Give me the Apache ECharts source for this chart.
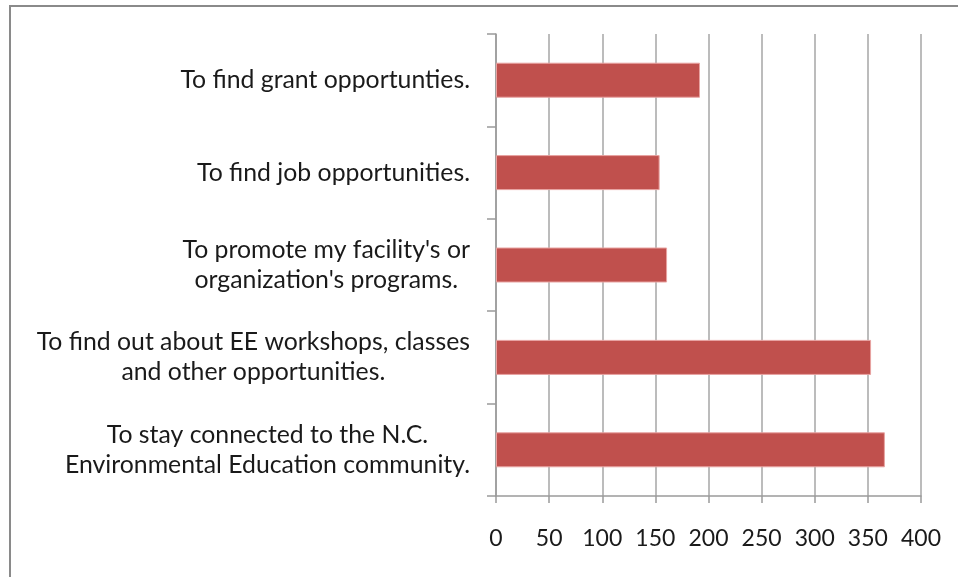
<!DOCTYPE html>
<html>
<head>
<meta charset="utf-8">
<script src="https://cdn.jsdelivr.net/npm/echarts@6/dist/echarts.min.js"></script>
<style>
  html, body { margin: 0; padding: 0; background: #fff; }
  #chart { width: 958px; height: 577px; }
</style>
</head>
<body>
<div id="chart"></div>
<script>
// categories from bottom to top
const categories = [
  'To stay connected to the N.C.\nEnvironmental Education community.',
  'To find out about EE workshops, classes\nand other opportunities.',
  "To promote my facility's or\norganization's programs.",
  'To find job opportunities.',
  'To find grant opportunties.'
]
const values = [366, 353, 161, 154, 192]
const tickMax = 400
const tickStep = 50

const chart = echarts.init(document.getElementById('chart'))
chart.setOption({
  backgroundColor: '#fff',
  animation: false,
  // chart frame, cut off at right and bottom like the picture
  graphic: [{
    type: 'rect',
    shape: { x: 10, y: 6, width: 1000, height: 620 },
    style: { fill: 'none', stroke: '#8a8a8a', lineWidth: 2 },
    silent: true
  }],
  grid: {
    left: 496,
    right: 37,
    top: 34,
    bottom: 81
  },
  xAxis: {
    type: 'value',
    min: 0,
    max: tickMax,
    interval: tickStep,
    axisLine: { show: true, lineStyle: { color: '#9a9a9a', width: 1.5 } },
    axisTick: { show: true, length: 7, lineStyle: { color: '#9a9a9a', width: 1.5 } },
    splitLine: { show: true, lineStyle: { color: '#a6a6a6', width: 1.5 } },
    axisLabel: {
      margin: 31,
      color: '#1a1a1a',
      fontSize: 23,
      fontFamily: 'Lato'
    }
  },
  yAxis: {
    type: 'category',
    data: categories,
    axisLine: { show: true, lineStyle: { color: '#9a9a9a', width: 1.5 } },
    axisTick: { show: true, length: 9, lineStyle: { color: '#9a9a9a', width: 1.5 } },
    axisLabel: {
      margin: 26,
      align: 'right',
      // each line centred inside the right-aligned block
      formatter: function (val) {
        return val.split('\n').map(function (s) { return '{c|' + s + '}' }).join('\n')
      },
      rich: {
        c: {
          align: 'center',
          color: '#1a1a1a',
          fontSize: 24.8,
          lineHeight: 30,
          fontFamily: 'Lato'
        }
      }
    }
  },
  series: [{
    type: 'bar',
    data: values,
    barWidth: 35,
    itemStyle: {
      color: '#c0504d',
      borderColor: '#e8a3a1',
      borderWidth: 1
    }
  }]
})
</script>
</body>
</html>
